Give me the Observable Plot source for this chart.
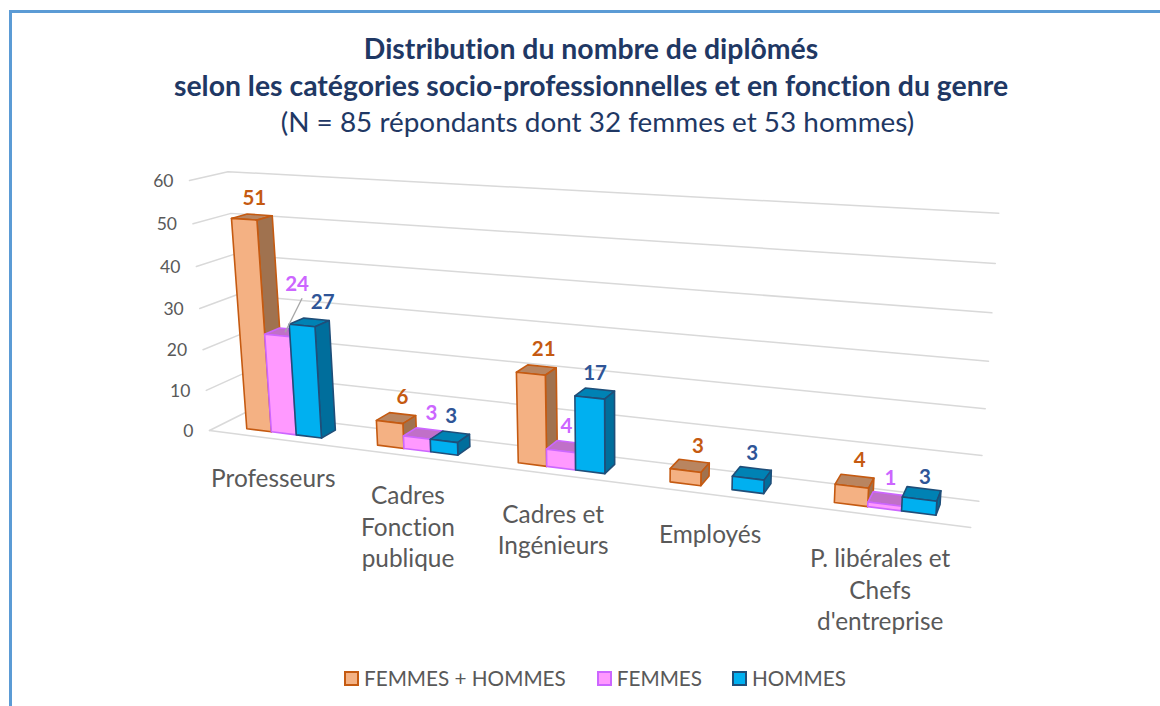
<!DOCTYPE html>
<html lang="fr"><head><meta charset="utf-8">
<script src="https://cdn.jsdelivr.net/npm/d3@7"></script>
<script src="https://cdn.jsdelivr.net/npm/@observablehq/plot@0.6"></script>
<style>
html,body{margin:0;padding:0;background:#fff;width:1160px;height:706px;overflow:hidden}
*{font-variant-ligatures:none}
#frame{position:absolute;left:9px;top:10px;width:1151px;height:696px;box-sizing:border-box;border-left:3px solid #5B9BD5;border-top:3px solid #5B9BD5}
#head{position:absolute;left:0;top:30px;width:1182px;height:110px;text-align:center;color:#1F3864;font-family:Lato,sans-serif}
#head .t{font-weight:700;font-size:28.4px;line-height:36.5px;height:36.5px}
#head .s{font-size:27.9px;line-height:36.5px;height:36.5px;color:#1F3864;margin-left:13px}
#chart{position:absolute;left:0;top:150px}
#chart svg{display:block;background:transparent}
#legend{position:absolute;left:344px;top:664px;height:28px;display:flex;align-items:center;font:20.7px Lato,sans-serif;color:#595959}
#legend .k{display:flex;align-items:center}
#legend i{display:block;width:11px;height:11px;border:2px solid;margin-right:5px}
</style></head><body>
<div id="frame"></div>
<div id="head">
<div class="t">Distribution du nombre de diplômés</div>
<div class="t">selon les catégories socio-professionnelles et en fonction du genre</div>
<div class="s">(N = 85 répondants dont 32 femmes et 53 hommes)</div>
</div>
<div id="chart"></div>
<div id="legend"></div>
<script>
const categories = ["Professeurs","Cadres\nFonction\npublique","Cadres et\nIngénieurs","Employés","P. libérales et\nChefs\nd'entreprise"];
const seriesNames = ["FEMMES + HOMMES","FEMMES","HOMMES"];
const femmesHommes = [51,6,21,3,4];
const femmes = [24,3,4,null,1];
const hommes = [27,3,17,3,3];
const ticks = [0,10,20,30,40,50,60];
const valueMax = 60;

// colours per series: front, side, top, outline, label
const palette = [
  {front:"#F4B183",side:"#A0724F",top:"#B98560",edge:"#C55A11",label:"#C55A11"},
  {front:"#FF99FF",side:"#A05FA0",top:"#C070C8",edge:"#CC66FF",label:"#CC66FF"},
  {front:"#00B0F0",side:"#006E9C",top:"#0082B4",edge:"#1F4E79",label:"#2F5597"}
];
// placement of each value label relative to its bar, per series and category
const labelDx = [[2,6,7,8,5],[12,8,0,0,3],[13,1,0,0,3]];
const labelDy = [[1,0,0,1,0],[0,0,0,0,0],[0,0,0,0,4]];
// vertical placement of each category label below the floor edge
const categoryDy = [0,0,0,0,3];

// Perspective of the 3D box: u along categories (0..5), d depth (0..1), h = value / max
function project(u,d,v){
  const h=v/valueMax;
  const w=1-0.0354*u+0.04*d-0.046*h;
  return {
    x:(209+117.9*u+45.8*d-28.7*h)/w,
    y:(430+0.74*u-1.52*d-258.3*h)/w
  };
}
const D0=0.28,D1=0.70,groupHalf=0.29,groupShift=0.005;
const all=[femmesHommes,femmes,hommes];
const faces=[];
let id=0;
function face(pts,fill,edge){
  const k=id++;
  for(const [u,d,v] of pts){const p=project(u,d,v);faces.push({id:k,x:p.x,y:p.y,fill,edge});}
}
const labels=[];
categories.forEach((c,i)=>{
  all.forEach((vals,s)=>{
    const v=vals[i];
    if(v==null) return;
    const w=2*groupHalf/3;
    const u0=i+0.5+groupShift-groupHalf+s*w,u1=u0+w;
    const col=palette[s];
    face([[u0,D0,v],[u1,D0,v],[u1,D1,v],[u0,D1,v]],col.top,col.edge);
    face([[u1,D0,0],[u1,D1,0],[u1,D1,v],[u1,D0,v]],col.side,col.edge);
    face([[u0,D0,0],[u1,D0,0],[u1,D0,v],[u0,D0,v]],col.front,col.edge);
    const p=project((u0+u1)/2,0.5,v);
    labels.push({x:p.x+labelDx[s][i],y:p.y+labelDy[s][i],bx:p.x,by:p.y,text:String(v),color:col.label,s,i});
  });
});

// leader line of the one label that sits away from its bar
const moved=labels.find(l=>l.s===1&&l.i===0);
const leader=[{x1:moved.bx,y1:moved.by,x2:moved.bx+17,y2:moved.by-34}];
moved.y-=28;

const grid=[];
ticks.forEach(t=>{
  [[0,0],[0,1],[5,1]].forEach(([u,d])=>{const p=project(u,d,t);grid.push({t,...p});});
});
const floorFront=[[0,0],[5,0]].map(([u,d])=>project(u,d,0));
const tickLabels=ticks.map(t=>({t,...project(0,0,t)}));
const catLabels=categories.map((c,i)=>{const p=project(i+0.5,0,0);return {c,x:p.x,y:p.y+categoryDy[i]};});

const chart=Plot.plot({
  width:1160,height:500,
  marginLeft:0,marginRight:0,marginTop:0,marginBottom:0,
  x:{domain:[0,1160],range:[0,1160],axis:null},
  y:{domain:[150,650],range:[0,500],axis:null},
  style:{fontFamily:"Lato,sans-serif",background:"transparent"},
  marks:[
    Plot.line(grid,{x:"x",y:"y",z:"t",stroke:"#D9D9D9",strokeWidth:1.5}),
    Plot.line(floorFront,{x:"x",y:"y",stroke:"#D9D9D9",strokeWidth:1.5}),
    Plot.line(faces,{x:"x",y:"y",z:"id",fill:"fill",stroke:"edge",strokeWidth:1.6,curve:"linear-closed"}),
    Plot.link(leader,{x1:"x1",y1:"y1",x2:"x2",y2:"y2",stroke:"#A6A6A6",strokeWidth:1.3}),
    Plot.text(tickLabels,{x:"x",y:"y",text:d=>String(d.t),textAnchor:"end",dx:-16,dy:1,fontSize:17.5,fill:"#595959"}),
    Plot.text(catLabels,{x:"x",y:"y",text:"c",dy:26,lineAnchor:"top",lineHeight:1.29,fontSize:24.4,fill:"#595959"}),
    Plot.text(labels,{x:"x",y:"y",text:"text",dy:-20,fontSize:20.5,fontWeight:700,fill:"color"})
  ]
});
document.getElementById("chart").appendChild(chart);

const lg=document.getElementById("legend");
const gaps=[31,30,0];
seriesNames.forEach((n,s)=>{
  const k=document.createElement("div");k.className="k";k.style.marginRight=gaps[s]+"px";
  const sw=document.createElement("i");sw.style.background=palette[s].front;sw.style.borderColor=palette[s].edge;
  const t=document.createElement("span");t.textContent=n;
  k.append(sw,t);lg.append(k);
});
</script>
</body></html>
